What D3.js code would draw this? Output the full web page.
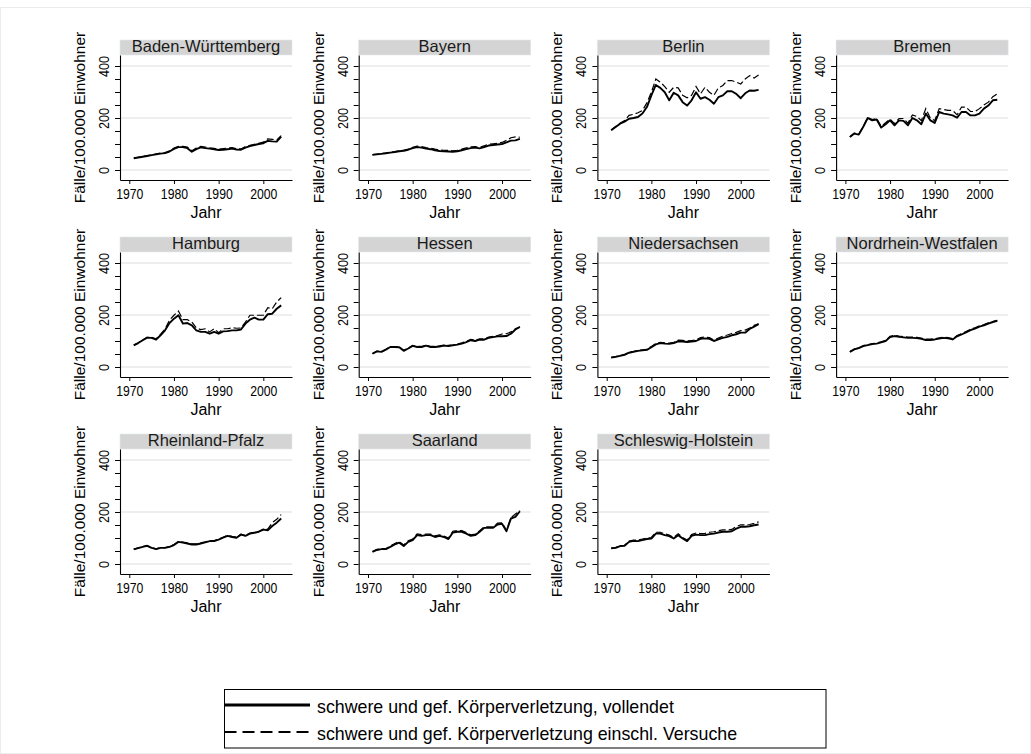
<!DOCTYPE html>
<html>
<head>
<meta charset="utf-8">
<script src="https://cdn.jsdelivr.net/npm/d3@7"></script>
<style>
  body { margin: 0; background: #fff; }
  text { font-family: "Liberation Sans", Arial, sans-serif; fill: #000; font-weight: normal; }
</style>
</head>
<body>
<script>
// Jahre 1971 - 2004
var years = d3.range(1971, 2005);

var states = ["Baden-Württemberg", "Bayern", "Berlin", "Bremen",
  "Hamburg", "Hessen", "Niedersachsen", "Nordrhein-Westfalen",
  "Rheinland-Pfalz", "Saarland", "Schleswig-Holstein"];

// vollendet (solid)
var bwDone = [45,48,51,54,57,60,63,65,71,81,88,88,84,70,80,87,84,82,80,77,78,80,82,79,78,86,92,96,100,103,112,110,109,128];
var byDone = [58,60,62,64,67,69,72,74,78,84,88,86,82,80,76,73,72,71,70,72,76,80,84,86,83,88,94,96,98,100,106,113,114,120];
var beDone = [153,165,178,186,197,200,204,217,242,287,327,316,299,268,297,287,261,248,268,299,274,280,270,255,280,287,303,303,293,276,295,306,305,308];
var hbDone = [127,140,136,166,200,191,194,163,176,191,172,191,189,172,200,191,176,217,191,181,223,217,214,210,201,223,223,210,210,217,236,248,268,270];
var hhDone = [83,92,103,113,112,105,122,141,169,186,199,167,169,160,141,135,135,128,135,128,137,138,141,141,144,167,182,190,182,182,203,205,224,237];
var heDone = [51,60,58,67,77,77,76,62,71,81,77,77,82,77,77,79,82,81,83,86,90,96,103,100,105,105,112,115,118,118,119,128,144,154];
var niDone = [36,39,43,47,55,58,62,64,66,76,87,92,90,89,92,99,98,96,98,100,108,110,108,100,106,112,116,122,126,132,132,146,155,165];
var nwDone = [58,68,73,80,84,88,90,95,100,115,119,116,114,112,112,111,108,104,104,106,109,112,110,106,118,125,133,142,148,155,160,167,173,178];
var rpDone = [56,61,66,70,62,57,62,62,66,73,85,82,79,75,75,79,83,88,88,94,101,108,104,101,113,108,117,120,124,132,130,146,159,175];
var slDone = [47,54,57,57,66,75,82,69,85,92,111,108,111,111,104,108,104,96,121,124,124,117,108,111,124,139,139,139,152,155,126,175,181,203];
var shDone = [60,62,69,70,85,89,88,92,96,98,117,117,111,107,98,111,98,88,108,113,111,111,115,117,121,124,124,126,136,143,143,145,149,152];

// einschl. Versuche (dashed)
var bwTry = [46,49,52,55,58,62,65,67,74,84,91,91,88,74,84,91,88,85,83,80,82,84,86,82,81,90,95,99,103,107,120,118,116,132];
var byTry = [59,61,63,66,69,71,74,76,80,87,92,90,86,84,80,77,76,75,74,76,80,85,89,90,87,93,99,101,103,106,114,124,127,126];
var beTry = [154,167,180,190,210,214,220,229,258,299,350,338,321,299,318,316,287,278,287,321,293,318,299,287,316,325,344,344,338,331,350,363,354,365];
var hbTry = [128,142,138,168,202,194,198,168,182,196,178,198,198,180,212,206,190,236,200,190,236,233,229,229,212,242,242,225,225,236,250,261,282,293];
var hhTry = [84,93,104,114,114,108,126,146,180,199,215,182,182,173,150,144,147,135,147,132,147,147,151,149,150,173,199,199,199,199,228,224,250,267];
var heTry = [52,61,59,68,78,78,77,64,73,83,79,79,84,79,79,81,84,83,85,88,93,99,106,103,108,108,115,118,121,127,128,135,147,155];
var niTry = [37,40,44,48,57,60,64,66,68,79,90,95,93,92,95,103,102,100,102,104,113,115,113,104,111,118,123,129,133,140,142,150,160,166];
var nwTry = [59,69,74,82,86,90,92,97,102,118,122,119,117,115,115,114,111,107,107,109,112,115,113,109,121,128,136,145,151,158,163,170,175,179];
var rpTry = [57,62,67,71,63,58,63,63,67,75,87,84,81,77,77,81,85,90,90,96,103,110,106,103,115,110,119,122,126,134,134,159,172,190];
var slTry = [48,56,59,59,69,79,86,73,89,96,116,113,115,115,108,112,108,100,126,129,128,121,112,115,128,143,143,143,157,158,130,178,192,206];
var shTry = [61,63,71,72,88,92,92,96,100,102,122,122,116,111,102,116,102,92,113,119,117,118,122,124,128,131,131,133,144,151,150,152,156,162];

var doneSeries = [bwDone, byDone, beDone, hbDone, hhDone, heDone, niDone, nwDone, rpDone, slDone, shDone];
var trySeries = [bwTry, byTry, beTry, hbTry, hhTry, heTry, niTry, nwTry, rpTry, slTry, shTry];

var xTicks = [1970, 1980, 1990, 2000];
var yTicks = [0, 50, 100, 150, 200, 250, 300, 350, 400];
var yLabels = [0, 200, 400];

var legendLabels = ["schwere und gef. Körperverletzung, vollendet",
  "schwere und gef. Körperverletzung einschl. Versuche"];

// SVG dimensions
var svgWidth = 1031;
var svgHeight = 754;

// panel layout
var panelWidth = 172;
var panelHeight = 125;
var stripHeight = 15;
var firstAxisX = 120;
var colStep = 238.7;
var firstStripY = 40;
var rowStep = 197;

var svg = d3.select("body")
  .append("svg")
  .attr("width", svgWidth)
  .attr("height", svgHeight);

// faint outer frame
svg.append("rect")
  .attr("x", 0.5)
  .attr("y", 7.5)
  .attr("width", svgWidth - 1)
  .attr("height", svgHeight - 8)
  .attr("fill", "none")
  .attr("stroke", "#ececec");

var xScale = d3.scaleLinear()
  .domain([1967.92, 2006.42])
  .range([0, panelWidth]);

var yScale = d3.scaleLinear()
  .domain([-38.5, 442.3])
  .range([panelHeight, 0]);

var line = d3.line()
  .x((d, i) => xScale(years[i]))
  .y(d => yScale(d));

states.forEach(function(name, k) {
  var col = k % 4;
  var row = Math.floor(k / 4);
  var gx = firstAxisX + col * colStep;
  var gy = firstStripY + row * rowStep + stripHeight;

  var g = svg.append("g")
    .attr("transform", `translate(${gx}, ${gy})`);

  // strip with state name
  g.append("rect")
    .attr("x", 0)
    .attr("y", -stripHeight)
    .attr("width", panelWidth)
    .attr("height", stripHeight)
    .attr("fill", "#d4d4d4")
    .attr("stroke", "#dfe6ec")
    .attr("stroke-width", 0.6);

  g.append("text")
    .attr("x", panelWidth / 2)
    .attr("y", -3.5)
    .attr("text-anchor", "middle")
    .style("font-size", "16.5px")
    .style("fill", "#1a1a1a")
    .text(name);

  // grid lines
  g.selectAll(".grid")
    .data(yLabels)
    .enter()
    .append("line")
    .attr("x1", 0)
    .attr("x2", panelWidth)
    .attr("y1", d => yScale(d))
    .attr("y2", d => yScale(d))
    .attr("stroke", "#e9e9e9")
    .attr("stroke-width", 1.5);

  // y axis
  var leftAxis = d3.axisLeft(yScale)
    .tickValues(yTicks)
    .tickSize(5)
    .tickSizeOuter(0)
    .tickFormat(d => yLabels.indexOf(d) >= 0 ? d : "");

  var ya = g.append("g").call(leftAxis);
  ya.select(".domain").attr("stroke-width", 1.1);
  ya.selectAll("text")
    .attr("x", 0)
    .attr("y", 0)
    .attr("dy", 0)
    .attr("fill", "#000")
    .attr("text-anchor", "middle")
    .attr("transform", "translate(-11, 0) rotate(-90)")
    .attr("textLength", d => yLabels.indexOf(d) >= 0 ? String(d).length * 7 : null)
    .attr("lengthAdjust", "spacingAndGlyphs")
    .style("font-size", "15.5px")
    .style("font-family", "'Liberation Sans', Arial, sans-serif");

  // x axis
  var bottomAxis = d3.axisBottom(xScale)
    .tickValues(xTicks)
    .tickSize(4)
    .tickSizeOuter(0)
    .tickFormat(d3.format("d"));

  var xa = g.append("g")
    .attr("transform", `translate(0, ${panelHeight})`)
    .call(bottomAxis);
  xa.select(".domain").attr("stroke-width", 1.1);
  xa.selectAll("text")
    .attr("y", 19)
    .attr("dy", 0)
    .attr("fill", "#000")
    .attr("textLength", 27.2)
    .attr("lengthAdjust", "spacingAndGlyphs")
    .style("font-size", "15px")
    .style("font-family", "'Liberation Sans', Arial, sans-serif");

  // axis titles
  g.append("text")
    .attr("x", panelWidth / 2)
    .attr("y", panelHeight - 10 + 48)
    .attr("text-anchor", "middle")
    .style("font-size", "16px")
    .text("Jahr");

  g.append("text")
    .attr("transform", `translate(-35, ${panelHeight / 2}) rotate(-90)`)
    .attr("text-anchor", "middle")
    .style("font-size", "15.5px")
    .text("Fälle/100.000 Einwohner");

  // series
  g.append("path")
    .datum(trySeries[k])
    .attr("d", line)
    .attr("fill", "none")
    .attr("stroke", "#000")
    .attr("stroke-width", 1.2)
    .attr("stroke-dasharray", "7,3");

  g.append("path")
    .datum(doneSeries[k])
    .attr("d", line)
    .attr("fill", "none")
    .attr("stroke", "#000")
    .attr("stroke-width", 1.9)
    .attr("stroke-linejoin", "round");
});

// legend
var legend = svg.append("g");

legend.append("rect")
  .attr("x", 224.5)
  .attr("y", 689.5)
  .attr("width", 601.5)
  .attr("height", 58.5)
  .attr("fill", "#fff")
  .attr("stroke", "#000");

var legendRows = [705, 732];

legend.append("line")
  .attr("x1", 224.5).attr("x2", 310)
  .attr("y1", legendRows[0]).attr("y2", legendRows[0])
  .attr("stroke", "#000")
  .attr("stroke-width", 2.8);

legend.append("line")
  .attr("x1", 224.5).attr("x2", 310)
  .attr("y1", legendRows[1]).attr("y2", legendRows[1])
  .attr("stroke", "#000")
  .attr("stroke-width", 1.8)
  .attr("stroke-dasharray", "12,6");

legend.selectAll(".ltext")
  .data(legendLabels)
  .enter()
  .append("text")
  .attr("x", 317)
  .attr("y", (d, i) => legendRows[i] + 7.5)
  .style("font-size", "17.8px")
  .text(d => d);
</script>
</body>
</html>
